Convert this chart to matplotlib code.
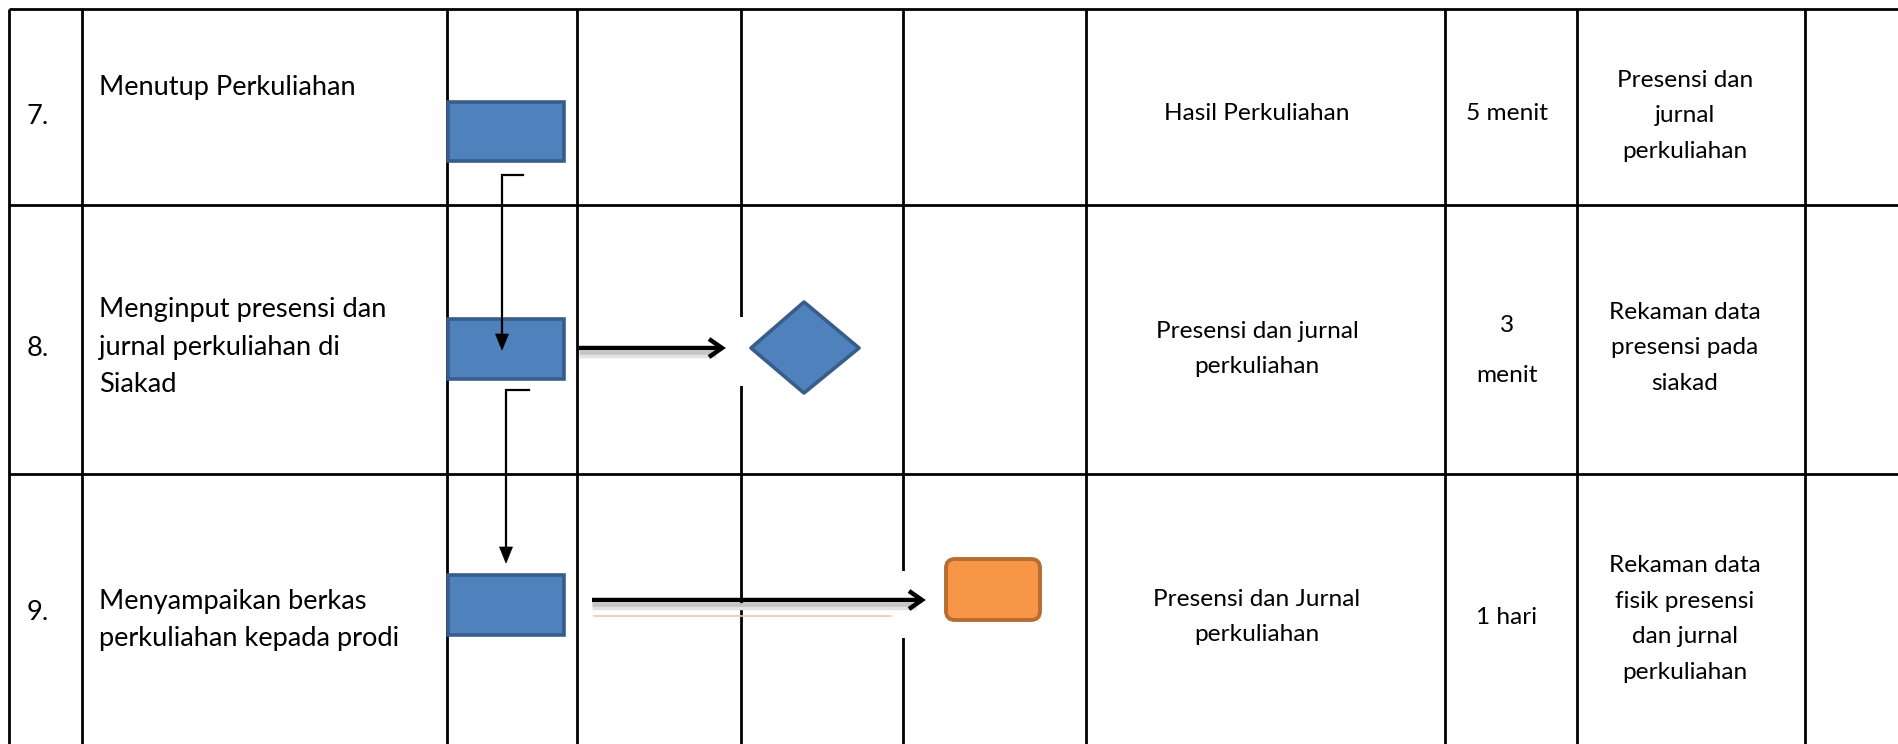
"""Recreate the SOP flow table (rows 7-9) with matplotlib -> out.png."""
import matplotlib
matplotlib.use("Agg")
import matplotlib.pyplot as plt
from matplotlib.patches import Rectangle, Polygon, FancyBboxPatch

# table content
row_no = ["7.", "8.", "9."]
activities = [
    ["Menutup Perkuliahan"],
    ["Menginput presensi dan", "jurnal perkuliahan di", "Siakad"],
    ["Menyampaikan berkas", "perkuliahan kepada prodi"],
]
outputs = [
    ["Hasil Perkuliahan"],
    ["Presensi dan jurnal", "perkuliahan"],
    ["Presensi dan Jurnal", "perkuliahan"],
]
durations = [["5 menit"], ["3", "menit"], ["1 hari"]]
records = [
    ["Presensi dan", "jurnal", "perkuliahan"],
    ["Rekaman data", "presensi pada", "siakad"],
    ["Rekaman data", "fisik presensi", "dan jurnal", "perkuliahan"],
]

# layout in pixels of the 1898x744 canvas
W, H = 1898, 744
COL_X = [9, 82, 447, 577, 741, 903, 1086, 1445, 1577, 1805]
ROW_Y = [9, 205, 474]
INK = "#000000"
BLUE, BLUE_EDGE = "#4f81bd", "#385d8a"
ORANGE, ORANGE_EDGE = "#f79646", "#b66d31"

fig = plt.figure(figsize=(W / 100, H / 100), dpi=100)
ax = fig.add_axes([0, 0, 1, 1])
ax.set_xlim(0, W)
ax.set_ylim(H, 0)
ax.axis("off")

# grid
for x in COL_X:
    ax.plot([x, x], [ROW_Y[0], H], color=INK, lw=2, solid_capstyle="butt", zorder=1)
for y in ROW_Y:
    ax.plot([COL_X[0], W], [y, y], color=INK, lw=2, solid_capstyle="butt", zorder=1)

FONT = "Lato"
BIG, SMALL = 19.6, 17.6


def cell_text(lines, x, yc, size, step, ha="center"):
    n = len(lines)
    for i, s in enumerate(lines):
        y = yc + (i - (n - 1) / 2) * step
        ax.text(x, y, s, ha=ha, va="center", fontsize=size, family=FONT,
                color=INK, zorder=5)


num_y = [117, 348, 612]
act_y = [87, 347, 620]
out_y = [114, 349, 617]
dur_y = [114, 350, 617]
rec_y = [116, 348, 619]
for i in range(3):
    cell_text([row_no[i]], 27, num_y[i], BIG, 38, ha="left")
    cell_text(activities[i], 99, act_y[i], BIG, 38 if len(activities[i]) > 2 else 36.5,
              ha="left")
    cell_text(outputs[i], 1257, out_y[i], SMALL, 35)
    cell_text(durations[i], 1507, dur_y[i], SMALL, 50 if len(durations[i]) > 1 else 35)
    cell_text(records[i], 1685, rec_y[i], SMALL, 35.5)

# process boxes in the first lane
for (y0, y1) in [(102, 161), (319, 379), (575, 635)]:
    ax.add_patch(Rectangle((448, y0), 116, y1 - y0, facecolor=BLUE,
                           edgecolor=BLUE_EDGE, lw=2.6, zorder=3))

# elbow connectors between boxes
for (sx, vx, ty, by) in [(523, 502, 175, 350), (529, 506, 390, 563)]:
    ax.plot([sx, vx, vx], [ty, ty, by - 14], color=INK, lw=1.6, zorder=4,
            solid_joinstyle="miter")
    ax.add_patch(Polygon([[vx - 6.5, by - 16], [vx + 6.5, by - 16], [vx, by]],
                         closed=True, facecolor=INK, edgecolor=INK, lw=0.5, zorder=4))

# decision diamond
ax.add_patch(Polygon([[751, 348], [804, 302], [859, 348], [804, 393]], closed=True,
                     facecolor=BLUE, edgecolor=BLUE_EDGE, lw=2.6, zorder=3,
                     joinstyle="round"))

# terminal document box
ax.add_patch(FancyBboxPatch((946, 559), 94, 61, boxstyle="round,pad=0,rounding_size=9",
                            facecolor=ORANGE, edgecolor=ORANGE_EDGE, lw=2.8, zorder=3))

# white backings behind the pasted arrows
ax.add_patch(Rectangle((728, 317), 22, 69, facecolor="white", lw=0, zorder=2))
ax.add_patch(Rectangle((890, 571), 45, 67, facecolor="white", lw=0, zorder=2))


def thick_arrow(x0, x1, y):
    # soft shadow under the shaft
    ax.plot([x0, x1 - 6], [y + 5, y + 5], color="#c4c4c4", lw=3.5, zorder=3,
            solid_capstyle="butt")
    ax.plot([x0, x1 - 6], [y + 8, y + 8], color="#e2e2e2", lw=2.5, zorder=3,
            solid_capstyle="butt")
    ax.plot([x0, x1 - 2], [y, y], color=INK, lw=3.2, zorder=4, solid_capstyle="butt")
    ax.plot([x1 - 13, x1, x1 - 13], [y - 9, y, y + 9], color=INK, lw=3.2,
            zorder=4, solid_capstyle="butt", solid_joinstyle="miter")


thick_arrow(579, 722, 348)
thick_arrow(592, 922, 600)
ax.plot([594, 891], [616, 616], color="#e8cbb3", lw=1.2, zorder=3)

fig.savefig("out.png", dpi=100, facecolor="white")
